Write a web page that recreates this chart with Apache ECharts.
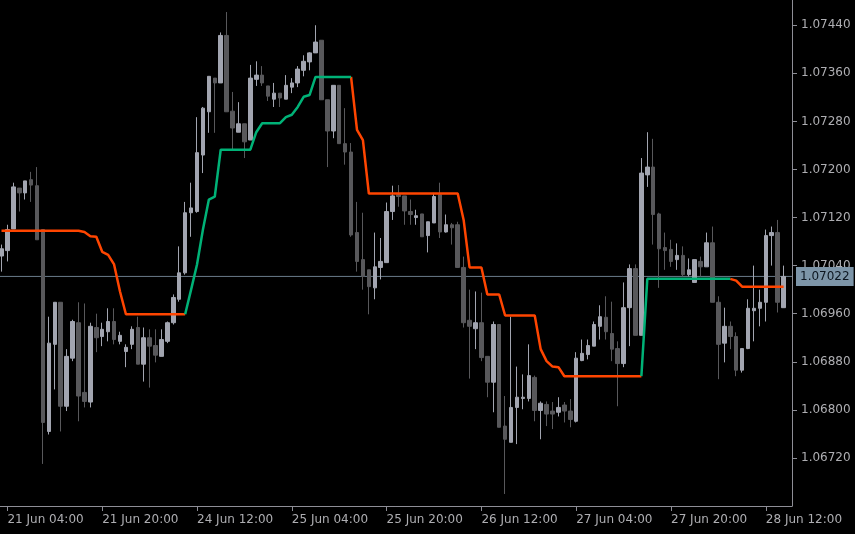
<!DOCTYPE html>
<html>
<head>
<meta charset="utf-8">
<script src="https://cdn.jsdelivr.net/npm/echarts@6/dist/echarts.min.js"></script>
<style>
html,body{margin:0;padding:0;background:#000;}
#chart{width:855px;height:534px;}
</style>
</head>
<body>
<div id="chart"></div>
<script>
// H1 bars, index 0 = 21 Jun 03:00
const tickBars = [1, 17, 33, 49, 65, 81, 97, 113, 129];
const tickLabels = ['21 Jun 04:00', '21 Jun 20:00', '24 Jun 12:00', '25 Jun 04:00', '25 Jun 20:00', '26 Jun 12:00', '27 Jun 04:00', '27 Jun 20:00', '28 Jun 12:00'];
const priceTicks = [1.06720, 1.06800, 1.06880, 1.06960, 1.07040, 1.07120, 1.07200, 1.07280, 1.07360, 1.07440];
const lastPrice = 1.07022;

const opens = [
1.07056,1.07065,1.07101,1.07169,1.07161,1.07183,1.07173,1.07100,1.06764,1.06909,
1.06979,1.06806,1.06886,1.06945,1.06829,1.06813,1.06937,1.06922,1.06930,1.06947,
1.06914,1.06897,1.06909,1.06937,1.06876,1.06920,1.06907,1.06889,1.06914,1.06945,
1.06984,1.07028,1.07128,1.07130,1.07224,1.07296,1.07352,1.07344,1.07423,1.07297,
1.07262,1.07276,1.07249,1.07350,1.07357,1.07339,1.07317,1.07327,1.07317,1.07337,
1.07344,1.07365,1.07379,1.07394,1.07415,1.07316,1.07264,1.07340,1.07243,1.07229,
1.07095,1.07050,1.07033,1.07003,1.07037,1.07045,1.07130,1.07158,1.07156,1.07130,
1.07120,1.07126,1.07090,1.07111,1.07158,1.07096,1.07108,1.07108,1.07037,1.06949,
1.06935,1.06945,1.06889,1.06846,1.06942,1.06773,1.06746,1.06804,1.06819,1.06819,
1.06854,1.06799,1.06809,1.06798,1.06796,1.06808,1.06798,1.06781,1.06882,1.06892,
1.06906,1.06939,1.06954,1.06927,1.06902,1.06877,1.06970,1.07035,1.06924,1.07191,
1.07204,1.07126,1.07070,1.07067,1.07050,1.07057,1.07025,1.07012,1.07047,1.07038,
1.07078,1.06979,1.06911,1.06939,1.06922,1.06866,1.06902,1.06965,1.06969,1.06979,
1.07090,1.07095,1.06970];

const highs = [
1.07075,1.07108,1.07178,1.07169,1.07181,1.07196,1.07204,1.07100,1.06955,1.06979,
1.06979,1.06901,1.06950,1.06979,1.06977,1.06945,1.06960,1.06945,1.06969,1.06969,
1.06930,1.06909,1.06939,1.06955,1.06937,1.06934,1.06934,1.06934,1.06947,1.06992,
1.07072,1.07146,1.07178,1.07287,1.07304,1.07355,1.07352,1.07428,1.07462,1.07329,
1.07312,1.07276,1.07374,1.07380,1.07372,1.07339,1.07344,1.07327,1.07357,1.07352,
1.07372,1.07390,1.07395,1.07440,1.07415,1.07316,1.07340,1.07340,1.07302,1.07244,
1.07146,1.07128,1.07033,1.07095,1.07086,1.07145,1.07173,1.07174,1.07156,1.07150,
1.07133,1.07126,1.07113,1.07161,1.07178,1.07125,1.07111,1.07113,1.07055,1.07000,
1.06997,1.06995,1.06889,1.06947,1.06942,1.06823,1.06955,1.06872,1.06859,1.06909,
1.06857,1.06814,1.06814,1.06813,1.06821,1.06813,1.06818,1.06896,1.06917,1.06917,
1.06947,1.06974,1.06989,1.06980,1.06914,1.07012,1.07042,1.07042,1.07219,1.07262,
1.07251,1.07128,1.07095,1.07083,1.07077,1.07072,1.07052,1.07050,1.07055,1.07095,
1.07105,1.06989,1.06970,1.06947,1.06929,1.06902,1.06984,1.07040,1.07000,1.07100,
1.07105,1.07116,1.07040];

const lows = [
1.07030,1.07047,1.07101,1.07130,1.07150,1.07146,1.07083,1.06710,1.06759,1.06834,
1.06764,1.06798,1.06881,1.06781,1.06804,1.06804,1.06896,1.06906,1.06914,1.06909,
1.06909,1.06871,1.06901,1.06876,1.06847,1.06837,1.06879,1.06889,1.06911,1.06942,
1.06980,1.07025,1.07088,1.07128,1.07194,1.07261,1.07261,1.07344,1.07296,1.07233,
1.07262,1.07219,1.07249,1.07339,1.07339,1.07314,1.07304,1.07304,1.07317,1.07327,
1.07337,1.07355,1.07365,1.07394,1.07316,1.07204,1.07252,1.07243,1.07208,1.07088,
1.07030,1.07000,1.06959,1.06984,1.07017,1.07045,1.07116,1.07138,1.07108,1.07108,
1.07108,1.07088,1.07062,1.07111,1.07086,1.07095,1.07075,1.07037,1.06937,1.06852,
1.06901,1.06881,1.06821,1.06796,1.06771,1.06660,1.06746,1.06743,1.06801,1.06814,
1.06781,1.06751,1.06773,1.06768,1.06789,1.06779,1.06771,1.06779,1.06881,1.06884,
1.06906,1.06917,1.06917,1.06881,1.06806,1.06871,1.06906,1.06924,1.06924,1.07171,
1.07075,1.07003,1.07033,1.07038,1.07033,1.07022,1.07022,1.07012,1.07022,1.07038,
1.06979,1.06851,1.06879,1.06901,1.06856,1.06862,1.06901,1.06914,1.06939,1.06947,
1.07040,1.06962,1.06970];

const closes = [
1.07068,1.07100,1.07171,1.07161,1.07181,1.07174,1.07083,1.06779,1.06911,1.06979,
1.06806,1.06889,1.06947,1.06823,1.06814,1.06939,1.06920,1.06934,1.06947,1.06917,
1.06924,1.06904,1.06934,1.06876,1.06920,1.06906,1.06891,1.06917,1.06945,1.06987,
1.07028,1.07128,1.07136,1.07228,1.07302,1.07355,1.07344,1.07423,1.07296,1.07269,
1.07276,1.07246,1.07352,1.07357,1.07344,1.07322,1.07327,1.07319,1.07340,1.07344,
1.07367,1.07380,1.07394,1.07412,1.07316,1.07264,1.07340,1.07243,1.07229,1.07091,
1.07047,1.07022,1.07005,1.07038,1.07047,1.07130,1.07156,1.07155,1.07131,1.07125,
1.07123,1.07088,1.07113,1.07155,1.07096,1.07108,1.07103,1.07037,1.06945,1.06939,
1.06945,1.06887,1.06846,1.06942,1.06771,1.06751,1.06804,1.06821,1.06821,1.06857,
1.06799,1.06811,1.06793,1.06793,1.06804,1.06798,1.06784,1.06886,1.06894,1.06907,
1.06942,1.06955,1.06930,1.06901,1.06877,1.06970,1.07035,1.06924,1.07194,1.07204,
1.07125,1.07068,1.07065,1.07047,1.07057,1.07025,1.07033,1.07050,1.07038,1.07078,
1.06979,1.06909,1.06939,1.06922,1.06866,1.06902,1.06969,1.06969,1.06979,1.07090,
1.07095,1.06979,1.07022];

const trendLine = [
1.07098,1.07098,1.07098,1.07098,1.07098,1.07098,1.07098,1.07098,1.07098,1.07098,
1.07098,1.07098,1.07098,1.07098,1.07096,1.07089,1.07088,1.07063,1.07058,1.07042,
1.06997,1.06959,1.06959,1.06959,1.06959,1.06959,1.06959,1.06959,1.06959,1.06959,
1.06959,1.06959,1.07000,1.07042,1.07100,1.07150,1.07155,1.07233,1.07233,1.07233,
1.07233,1.07233,1.07233,1.07262,1.07277,1.07277,1.07277,1.07277,1.07287,1.07291,
1.07304,1.07321,1.07324,1.07354,1.07354,1.07354,1.07354,1.07354,1.07354,1.07354,
1.07266,1.07249,1.07160,1.07160,1.07160,1.07160,1.07160,1.07160,1.07160,1.07160,
1.07160,1.07160,1.07160,1.07160,1.07160,1.07160,1.07160,1.07160,1.07116,1.07037,
1.07037,1.07037,1.06992,1.06992,1.06992,1.06957,1.06957,1.06957,1.06957,1.06957,
1.06957,1.06901,1.06881,1.06872,1.06871,1.06856,1.06856,1.06856,1.06856,1.06856,
1.06856,1.06856,1.06856,1.06856,1.06856,1.06856,1.06856,1.06856,1.06856,1.07018,
1.07018,1.07018,1.07018,1.07018,1.07018,1.07018,1.07018,1.07018,1.07018,1.07018,
1.07018,1.07018,1.07018,1.07018,1.07015,1.07005,1.07005,1.07005,1.07005,1.07005,
1.07005,1.07005,1.07005];

// bar index ranges (inclusive) where the trend line is green
const upSegments = [[31, 59], [108, 123]];

const isUp = i => upSegments.some(s => i >= s[0] && i <= s[1]);
const isDown = i => !upSegments.some(s => i > s[0] && i < s[1]);

const candleData = opens.map((o, i) => [i, o, closes[i], lows[i], highs[i]]);
const upData = trendLine.map((v, i) => [i, isUp(i) ? v : null]);
const downData = trendLine.map((v, i) => [i, isDown(i) ? v : null]);
const priceLineData = [[-0.253, lastPrice], [133.42, lastPrice]];

const FONT = 'DejaVu Sans';
const TEXT = '#aeaeb2';
const AXIS = '#8e8e96';

const chart = echarts.init(document.getElementById('chart'), null, {renderer: 'canvas'});
chart.setOption({
  animation: false,
  backgroundColor: '#000000',
  grid: {left: 0, right: 63, top: 0, bottom: 28, containLabel: false},
  xAxis: {
    type: 'value',
    min: -0.253,
    max: 133.42,
    splitLine: {show: false},
    axisLine: {show: true, onZero: false, lineStyle: {color: AXIS, width: 1}},
    axisTick: {show: true, length: 5, customValues: tickBars, lineStyle: {color: AXIS}},
    axisLabel: {
      show: true, customValues: tickBars, align: 'left', margin: 8,
      color: TEXT, fontFamily: FONT, fontSize: 12,
      formatter: v => { const k = tickBars.indexOf(Math.round(v)); return k >= 0 ? tickLabels[k] : ''; }
    }
  },
  yAxis: {
    type: 'value',
    position: 'right',
    min: 1.0664,
    max: 1.07482,
    scale: true,
    splitLine: {show: false},
    axisLine: {show: true, onZero: false, lineStyle: {color: AXIS, width: 1}},
    axisTick: {show: true, length: 5, customValues: priceTicks, lineStyle: {color: AXIS}},
    axisLabel: {
      show: true, customValues: priceTicks, margin: 9,
      color: TEXT, fontFamily: FONT, fontSize: 12,
      formatter: v => v.toFixed(5)
    }
  },
  series: [
    {
      type: 'line',
      data: priceLineData,
      showSymbol: false,
      silent: true,
      lineStyle: {color: '#6a7b8a', width: 1},
      endLabel: {
        show: true, distance: 4,
        formatter: () => lastPrice.toFixed(5),
        backgroundColor: '#7d95a8', color: '#0d1620',
        fontFamily: FONT, fontSize: 12, padding: [4, 4, 3, 4]
      },
      z: 1
    },
    {
      type: 'candlestick',
      data: candleData,
      encode: {x: 0, y: [1, 2, 3, 4]},
      barWidth: 4,
      itemStyle: {
        color: '#a2a5b0', color0: '#58585b',
        borderColor: '#a2a5b0', borderColor0: '#58585b', borderWidth: 1
      },
      z: 2
    },
    {
      type: 'line', data: downData, showSymbol: false, connectNulls: false,
      lineStyle: {color: '#ff4500', width: 2.5}, z: 4
    },
    {
      type: 'line', data: upData, showSymbol: false, connectNulls: false,
      lineStyle: {color: '#00b277', width: 2.5}, z: 4
    }
  ]
});
</script>
</body>
</html>
